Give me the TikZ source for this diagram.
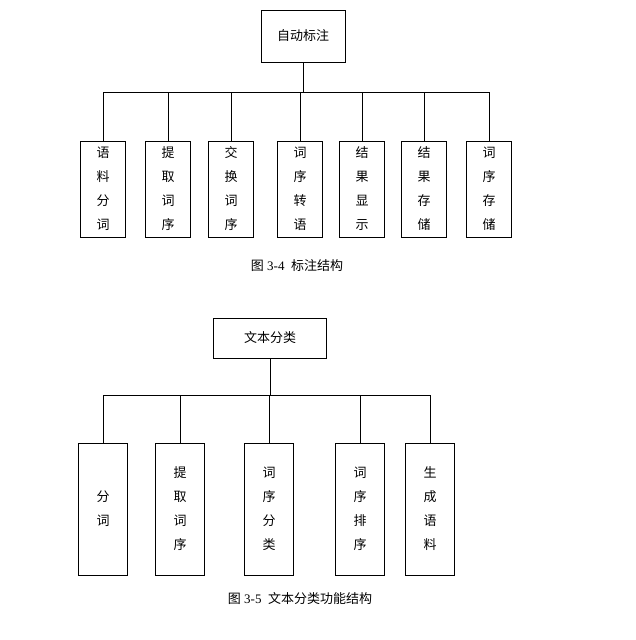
\documentclass[tikz,border=0pt]{standalone}
\usepackage{fontspec}
\setmainfont{Liberation Serif}
\newfontfamily\cjk{Noto Sans CJK SC}
\tikzset{
  box/.style={draw=black, fill=white, font=\cjk\fontsize{13}{24}\selectfont, align=center, inner sep=0pt},
  captext/.style={font=\fontsize{13}{15}\selectfont}
}
\begin{document}
\begin{tikzpicture}[x=1pt,y=-1pt]
\useasboundingbox (0,0) rectangle (635,640);
% upper tree
\node[box, minimum width=84pt, minimum height=52pt] (bz) at (303,36) {自动标注};
\foreach \n/\x/\t in {a/103/语\\料\\分\\词, b/168/提\\取\\词\\序, c/231/交\\换\\词\\序, d/300/词\\序\\转\\语, e/362/结\\果\\显\\示, f/424/结\\果\\存\\储, g/489/词\\序\\存\\储}
  \node[box, minimum width=45pt, minimum height=96pt] (\n) at (\x,189) {\t};
\draw (bz.south)--(303,92);
\draw (a.north)--(103,92)--(489,92)--(g.north);
\foreach \n/\x in {b/168,c/231,d/300,e/362,f/424}
  \draw (\x,92)--(\n.north);
\node[captext] (c34) at (297,266) {{\cjk 图} 3-4\ \ {\cjk 标注结构}};
% lower tree
\node[box, minimum width=113pt, minimum height=40pt] (wb) at (270,338) {文本分类};
\foreach \n/\x/\t in {p/103/分\\词, q/180/提\\取\\词\\序, r/269/词\\序\\分\\类, s/360/词\\序\\排\\序, t/430/生\\成\\语\\料}
  \node[box, minimum width=49pt, minimum height=132pt] (\n) at (\x,509) {\t};
\draw (wb.south)--(270,395);
\draw (p.north)--(103,395)--(430,395)--(t.north);
\foreach \n/\x in {q/180,r/269,s/360}
  \draw (\x,395)--(\n.north);
\node[captext] (c35) at (300,599) {{\cjk 图} 3-5\ \ {\cjk 文本分类功能结构}};
\end{tikzpicture}
\end{document}
